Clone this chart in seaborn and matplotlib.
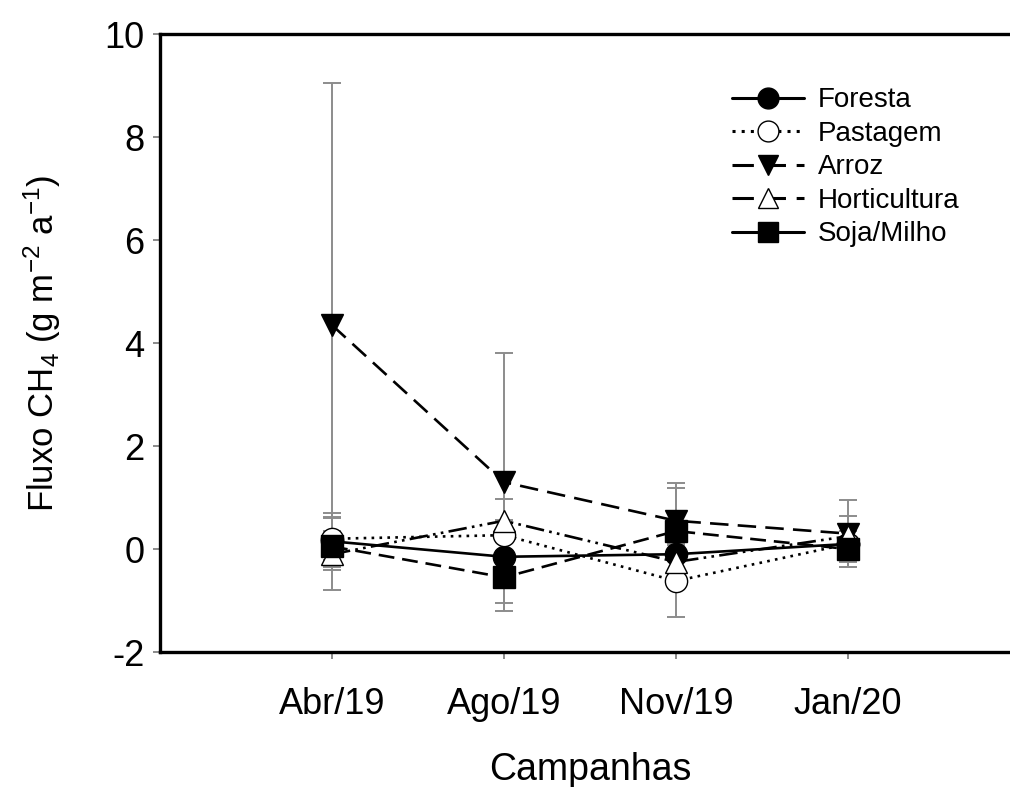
import matplotlib
matplotlib.use("Agg")
import matplotlib.pyplot as plt
import numpy as np
import pandas as pd
import seaborn as sns

campanhas = ["Abr/19", "Ago/19", "Nov/19", "Jan/20"]
series = ["Foresta", "Pastagem", "Arroz", "Horticultura", "Soja/Milho"]

foresta = [0.15, -0.15, -0.1, 0.1]
pastagem = [0.2, 0.27, -0.62, 0.1]
arroz = [4.35, 1.3, 0.55, 0.3]
horticultura = [-0.1, 0.55, -0.25, 0.25]
soja = [0.05, -0.55, 0.35, 0.0]

foresta_err = [0.55, 0.4, 0.3, 0.3]
pastagem_err = [0.42, 0.3, 0.7, 0.35]
arroz_err = [4.7, 2.5, 0.73, 0.65]
horticultura_err = [0.7, 0.42, 0.35, 0.4]
soja_err = [0.3, 0.5, 0.83, 0.35]

values = [foresta, pastagem, arroz, horticultura, soja]
errors = [foresta_err, pastagem_err, arroz_err, horticultura_err, soja_err]

rows = []
for name, vals, errs in zip(series, values, errors):
    for i, (v, e) in enumerate(zip(vals, errs)):
        rows.append({"serie": name, "x": i + 1, "campanha": campanhas[i], "fluxo": v, "err": e})
df = pd.DataFrame(rows)

styles = {
    "Foresta": dict(marker="o", mfc="black", ls="-", leg_ls="-"),
    "Pastagem": dict(marker="o", mfc="white", ls=(0, (1, 2)), leg_ls=(0, (1, 2))),
    "Arroz": dict(marker="v", mfc="black", ls=(0, (7, 3.5)), leg_ls=(0, (7, 3.5))),
    "Horticultura": dict(marker="^", mfc="white", ls=(0, (7, 2, 1, 2, 1, 2)), leg_ls=(0, (7, 3.5))),
    "Soja/Milho": dict(marker="s", mfc="black", ls=(0, (6, 3)), leg_ls="-"),
}

sns.set_style("ticks")
plt.rcParams["font.family"] = ["Liberation Sans", "DejaVu Sans"]
plt.rcParams["mathtext.fontset"] = "custom"
plt.rcParams["mathtext.rm"] = "Liberation Sans"
plt.rcParams["mathtext.it"] = "Liberation Sans"
plt.rcParams["axes.unicode_minus"] = False
plt.rcParams["text.color"] = "black"
plt.rcParams["axes.labelcolor"] = "black"
plt.rcParams["xtick.labelcolor"] = "black"
plt.rcParams["ytick.labelcolor"] = "black"

fig = plt.figure(figsize=(10.1, 7.87), dpi=100)
ax = fig.add_axes([0.1584, 0.1715, 0.8515, 0.785])

for k, name in enumerate(series):
    sub = df[df["serie"] == name]
    ax.errorbar(sub["x"], sub["fluxo"], yerr=sub["err"], fmt="none",
                ecolor="#8c8c8c", elinewidth=1.4, capsize=6.5, capthick=1.4,
                zorder=1)

for k, name in enumerate(series):
    sub = df[df["serie"] == name]
    st = styles[name]
    sns.lineplot(data=sub, x="x", y="fluxo", ax=ax, color="black",
                 marker=st["marker"], markerfacecolor=st["mfc"],
                 markeredgecolor="black", markeredgewidth=1.0,
                 markersize=16, linewidth=1.9, linestyle=st["ls"],
                 label=name, zorder=3 + k)

ax.set_xlim(0, 5)
ax.set_ylim(-2, 10)
ax.set_xticks([1, 2, 3, 4])
ax.set_xticklabels(campanhas)
ax.set_yticks(np.arange(-2, 11, 2))
ax.tick_params(axis="both", labelsize=26, direction="out", length=5,
               width=1.2, color="#777777", labelcolor="black")
ax.tick_params(axis="x", pad=20)
ax.tick_params(axis="y", pad=6)
for sp in ax.spines.values():
    sp.set_linewidth(2.4)
    sp.set_color("black")
ax.spines["right"].set_visible(True)
ax.spines["top"].set_visible(True)

ax.set_xlabel("Campanhas", fontsize=27, labelpad=22, color="black")
ax.set_ylabel("Fluxo CH$_4$ (g m$^{-2}$ a$^{-1}$)", fontsize=25, labelpad=30, color="black")

leg = ax.legend(loc="upper left", bbox_to_anchor=(0.652, 0.932), frameon=False,
                fontsize=20, handlelength=2.6, labelspacing=0.27,
                handletextpad=0.5, borderaxespad=0, labelcolor="black")
for h, name in zip(leg.legend_handles, series):
    h.set_markersize(15)
    h.set_linestyle(styles[name]["leg_ls"])
    h.set_linewidth(2.2)

fig.savefig("out.png", dpi=100)
